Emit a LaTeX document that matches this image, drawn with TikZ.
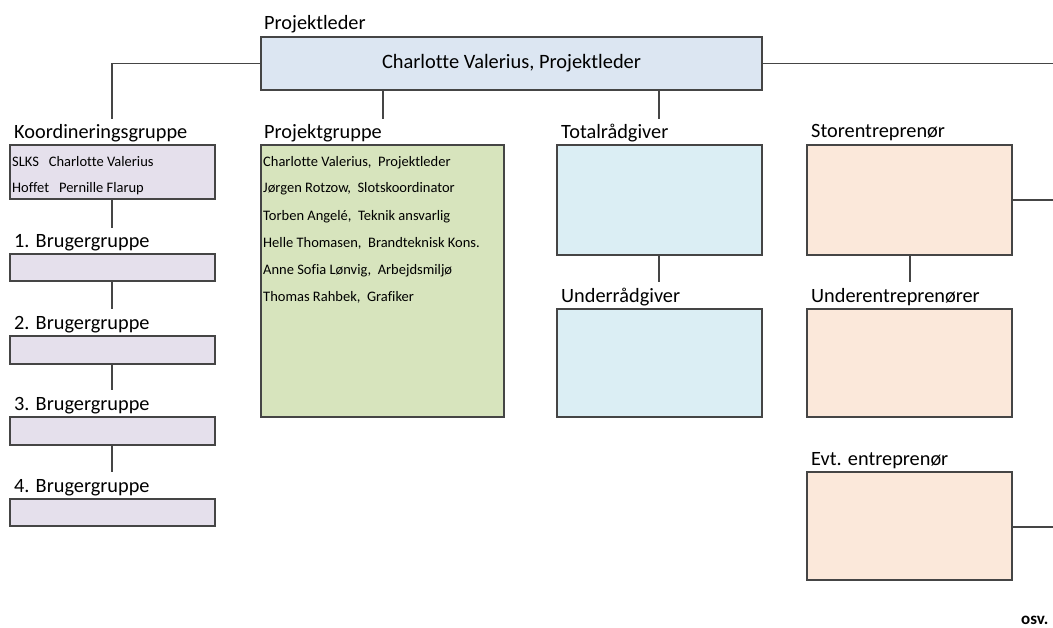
\documentclass[tikz,border=0pt]{standalone}
\usepackage{fontspec}
\setmainfont{Carlito}[Ligatures=NoCommon]
\definecolor{linec}{HTML}{454545}
\definecolor{topfill}{HTML}{DCE6F2}
\definecolor{lavfill}{HTML}{E5E0EC}
\definecolor{greenfill}{HTML}{D7E4BD}
\definecolor{bluefill}{HTML}{DBEEF4}
\definecolor{peachfill}{HTML}{FBE8DA}
\tikzset{
  box/.style={draw=linec, line width=1.1pt, anchor=north west, inner sep=0pt, outer sep=0pt},
  lbl/.style={anchor=base west, inner sep=0pt, font=\fontsize{20.3}{22}\selectfont},
  small/.style={anchor=base west, inner sep=0pt, font=\fontsize{14.5}{16}\selectfont},
  conn/.style={draw=linec, line width=1.1pt}
}
\begin{document}
\begin{tikzpicture}[x=1pt,y=-1pt]
\useasboundingbox (0,0) rectangle (1053,628);
% top
\node[lbl] (plbl) at (264,30) {Projektleder};
\node[box, fill=topfill, minimum width=501pt, minimum height=53pt, font=\fontsize{20.4}{22}\selectfont] (top) at (261,37) {Charlotte Valerius, Projektleder};
% coordination group
\node[lbl] (klbl) at (14,139) {Koordineringsgruppe};
\node[box, fill=lavfill, minimum width=205pt, minimum height=54pt] (kbox) at (10,145) {};
\node[small] (k1) at (12,167) {SLKS\ \ \ Charlotte Valerius};
\node[small] (k2) at (12,193) {Hoffet\ \ \ Pernille Flarup};
% user groups
\node[lbl] (b1lbl) at (14,248) {1. Brugergruppe};
\node[box, fill=lavfill, minimum width=205pt, minimum height=27pt] (b1) at (10,254) {};
\node[lbl] (b2lbl) at (14,330) {2. Brugergruppe};
\node[box, fill=lavfill, minimum width=205pt, minimum height=28pt] (b2) at (10,336) {};
\node[lbl] (b3lbl) at (14,411) {3. Brugergruppe};
\node[box, fill=lavfill, minimum width=205pt, minimum height=28pt] (b3) at (10,417) {};
\node[lbl] (b4lbl) at (14,493) {4. Brugergruppe};
\node[box, fill=lavfill, minimum width=205pt, minimum height=27pt] (b4) at (10,499) {};
% project group
\node[lbl] (pglbl) at (264,139) {Projektgruppe};
\node[box, fill=greenfill, minimum width=243pt, minimum height=272pt] (pg) at (261,145) {};
\node[small] (p1) at (263,167) {Charlotte Valerius,\ \ Projektleder};
\node[small] (p2) at (263,193) {Jørgen Rotzow,\ \ Slotskoordinator};
\node[small] (p3) at (263,221) {Torben Angelé,\ \ Teknik ansvarlig};
\node[small] (p4) at (263,248) {Helle Thomasen,\ \ Brandteknisk Kons.};
\node[small] (p5) at (263,275) {Anne Sofia Lønvig,\ \ Arbejdsmiljø};
\node[small] (p6) at (263,302) {Thomas Rahbek,\ \ Grafiker};
% advisers
\node[lbl] (tlbl) at (561,139) {Totalrådgiver};
\node[box, fill=bluefill, minimum width=205pt, minimum height=110pt] (tr) at (557,145) {};
\node[lbl] (ulbl) at (561,303) {Underrådgiver};
\node[box, fill=bluefill, minimum width=205pt, minimum height=108pt] (ur) at (557,309) {};
% contractors
\node[lbl] (slbl) at (811,138) {Storentreprenør};
\node[box, fill=peachfill, minimum width=205pt, minimum height=110pt] (se) at (807,145) {};
\node[lbl] (uelbl) at (811,303) {Underentreprenører};
\node[box, fill=peachfill, minimum width=205pt, minimum height=108pt] (ue) at (807,309) {};
\node[lbl] (elbl) at (811,465) {Evt. entreprenør};
\node[box, fill=peachfill, minimum width=205pt, minimum height=108pt] (ee) at (807,472) {};
\node[anchor=base west, inner sep=0pt, font=\fontsize{17}{18}\selectfont\bfseries] (osv) at (1021,624) {osv.};
% connector ends
\coordinate (ck) at (112,119);
\coordinate (cp) at (383,119);
\coordinate (ct) at (659,119);
\coordinate (cb1) at (112,228);
\coordinate (cb2) at (112,309);
\coordinate (cb3) at (112,390);
\coordinate (cb4) at (112,472);
\coordinate (cu) at (659,282);
\coordinate (cue) at (910,282);
\coordinate (redge) at (1053,0);
\coordinate (rs) at (1053,200);
\coordinate (re) at (1053,527);
% connectors
\draw[conn] (top.west) -| (ck);
\draw[conn] (top.east) -- (top.east -| redge);
\draw[conn] (top.south -| cp) -- (cp);
\draw[conn] (top.south -| ct) -- (ct);
\draw[conn] (kbox.south -| ck) -- (cb1);
\draw[conn] (b1.south -| ck) -- (cb2);
\draw[conn] (b2.south -| ck) -- (cb3);
\draw[conn] (b3.south -| ck) -- (cb4);
\draw[conn] (tr.south -| cu) -- (cu);
\draw[conn] (se.south -| cue) -- (cue);
\draw[conn] (se.east |- rs) -- (rs);
\draw[conn] (ee.east |- re) -- (re);
\end{tikzpicture}
\end{document}
